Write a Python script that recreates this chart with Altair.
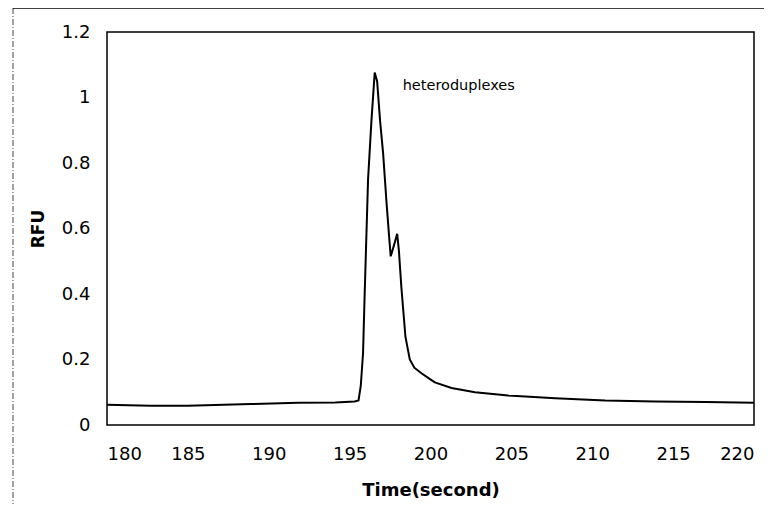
import altair as alt
import pandas as pd

# Electropherogram trace
time_s = [180.0, 182.7, 185.0, 188.9, 191.8, 194.1, 195.3, 195.55, 195.69, 195.83, 195.93,
          196.14, 196.35, 196.55, 196.7, 196.88, 197.07, 197.28, 197.45, 197.54, 197.75, 197.94,
          198.05, 198.2, 198.45, 198.72, 199.0, 199.44, 200.06, 200.27, 201.3, 202.75,
          204.8, 207.7, 210.8, 213.9, 217.0, 220.0]
rfu = [0.062, 0.059, 0.059, 0.064, 0.068, 0.069, 0.072, 0.075, 0.12, 0.22, 0.40,
       0.75, 0.93, 1.076, 1.05, 0.93, 0.83, 0.68, 0.57, 0.515, 0.55, 0.584,
       0.53, 0.42, 0.27, 0.20, 0.175, 0.158, 0.137, 0.13, 0.113, 0.10,
       0.09, 0.082, 0.075, 0.072, 0.070, 0.068]

x_ticks = [180, 185, 190, 195, 200, 205, 210, 215, 220]
y_ticks = [0, 0.2, 0.4, 0.6, 0.8, 1.0, 1.2]

ann_text = ["heteroduplexes"]
ann_x = [198.28]
ann_y = [1.035]

df = pd.DataFrame({"t": time_s, "v": rfu})
ann = pd.DataFrame({"t": ann_x, "v": ann_y, "label": ann_text})

x_enc = alt.X("t:Q", scale=alt.Scale(domain=[180, 220], nice=False),
              axis=alt.Axis(values=x_ticks, title="Time(second)", labelPadding=20,
                            titlePadding=18))
y_enc = alt.Y("v:Q", scale=alt.Scale(domain=[0, 1.2], nice=False),
              axis=alt.Axis(values=y_ticks, format="~g", title="RFU", labelPadding=17,
                            titlePadding=14))

line = alt.Chart(df).mark_line(color="black", strokeWidth=2).encode(x=x_enc, y=y_enc)

text = alt.Chart(ann).mark_text(align="left", baseline="middle", font="DejaVu Sans",
                                fontSize=14.5, color="black").encode(
    x="t:Q", y="v:Q", text="label:N")

frame_left = alt.Chart(pd.DataFrame({"a": [0]})).mark_rule(
    color="#444", strokeWidth=1, strokeDash=[6, 2, 1, 2]).encode(
    x=alt.value(-94), y=alt.value(-24), y2=alt.value(480))
frame_top = alt.Chart(pd.DataFrame({"a": [0]})).mark_rule(
    color="black", strokeWidth=1.5).encode(
    x=alt.value(-94), x2=alt.value(660), y=alt.value(-24))

chart = alt.layer(line, text, frame_left, frame_top).properties(
    width=647, height=393,
    padding={"left": 99, "top": 24, "right": 10, "bottom": 79},
    autosize=alt.AutoSizeParams(type="none"),
).configure_view(
    stroke="black", strokeWidth=1.5
).configure_axis(
    domain=False, ticks=False, grid=False,
    labelFont="DejaVu Sans", labelFontSize=18, labelColor="black",
    titleFont="DejaVu Sans", titleFontWeight="bold", titleColor="black",
).configure_axisX(titleFontSize=18).configure_axisY(titleFontSize=17)

chart.save("out.html", embed_options={"renderer": "svg", "actions": False})
